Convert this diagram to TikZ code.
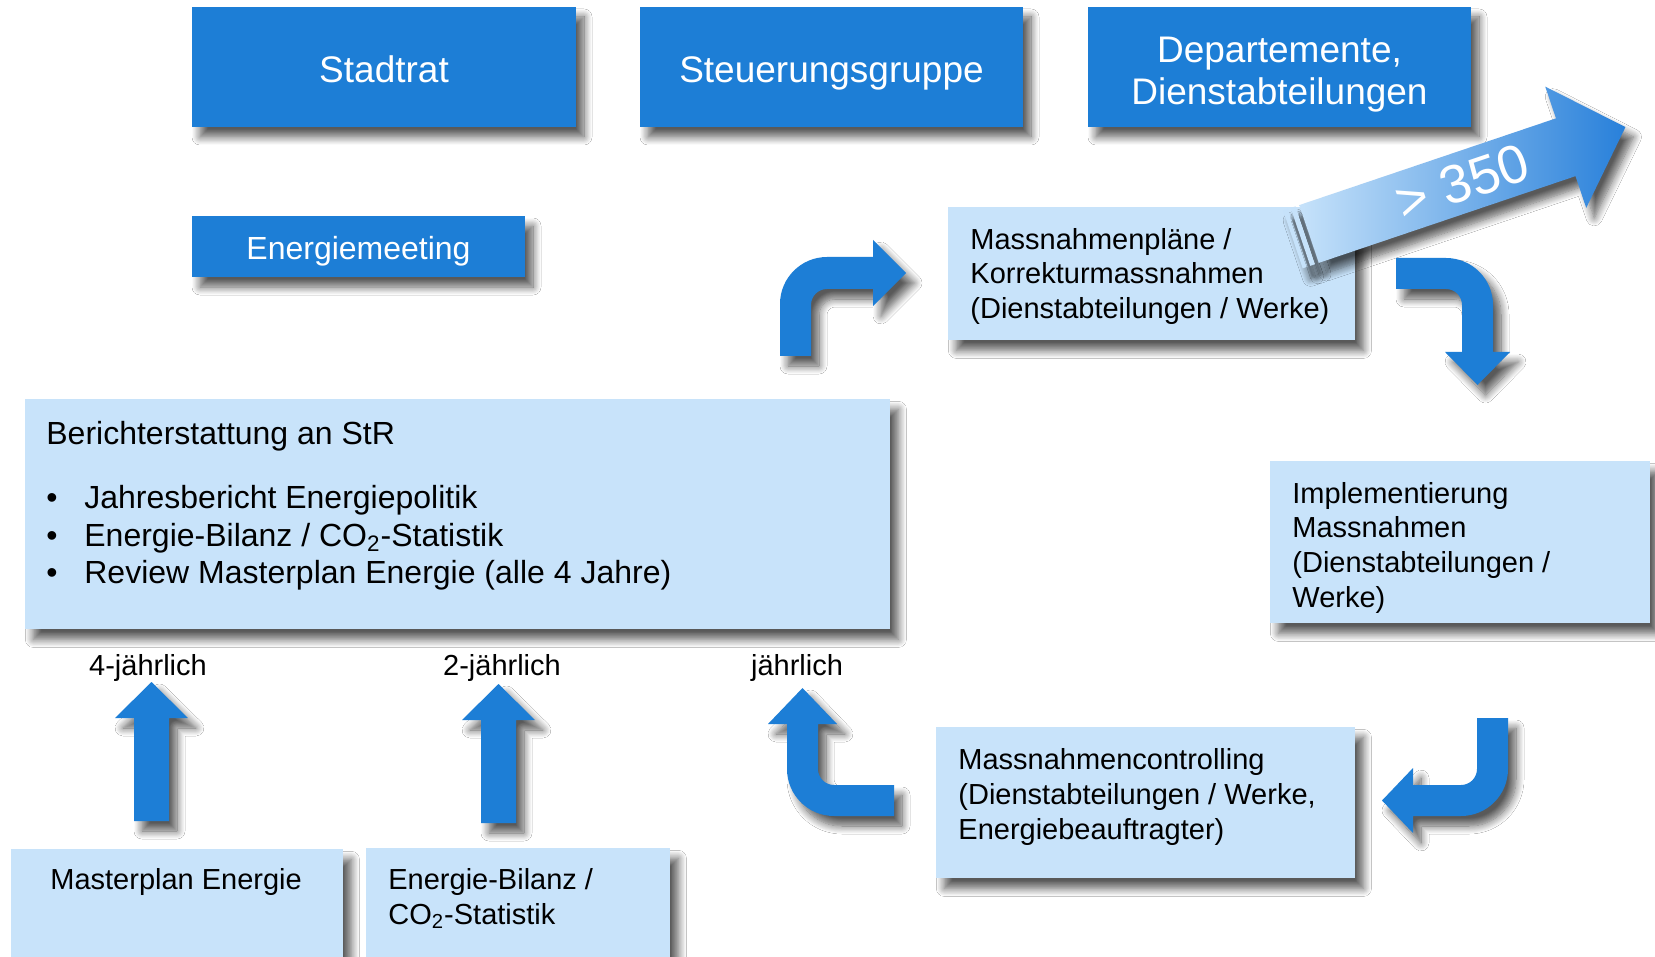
\documentclass[tikz,border=0pt]{standalone}
\usepackage{fontspec}
\setmainfont{Liberation Sans}
\usetikzlibrary{shadows.blur}
\definecolor{dunkelblau}{RGB}{29,126,214}
\definecolor{hellblau}{RGB}{200,227,250}
\definecolor{pfeilhell}{RGB}{198,226,250}
\definecolor{pfeildunkel}{RGB}{40,128,218}
\tikzset{
    schatten/.style={blur shadow={shadow xshift=4pt, shadow yshift=-5pt,
                     shadow blur radius=4pt, shadow blur steps=10,
                     shadow opacity=65}},
    orgbox/.style={fill=dunkelblau, text=white, schatten, inner sep=0pt,
                   align=center, font=\fontsize{18.5}{21}\selectfont},
    infobox/.style={fill=hellblau, schatten, inner sep=0pt, anchor=north west},
    infotext/.style={anchor=north west, inner sep=0pt, align=left,
                     font=\fontsize{14.5}{17.4}\selectfont},
    takt/.style={font=\fontsize{14.5}{18}\selectfont},
    blockpfeil/.style={fill=dunkelblau, schatten},
}

\begin{document}
\begin{tikzpicture}[x=0.5pt, y=-0.5pt]

    \useasboundingbox (0,0) rectangle (1655,957);
    \fill[white] (0,0) rectangle (1655,957);

    % Gremien
    \node[orgbox, minimum width=192pt, minimum height=60pt,
          text height=15.5pt, text depth=0pt] (stadtrat) at (384,67) {Stadtrat};
    \node[orgbox, minimum width=191.5pt, minimum height=60pt,
          text height=15.5pt, text depth=0pt] (steuerung) at (831.5,67) {Steuerungsgruppe};
    \node[orgbox, minimum width=191.5pt, minimum height=60pt] (departemente) at (1279.5,67)
        {\rule{0pt}{20pt}Departemente,\\Dienstabteilungen};
    \node[orgbox, minimum width=166.5pt, minimum height=30.5pt,
          text height=13.5pt, text depth=0pt,
          font=\fontsize{16}{19}\selectfont] (meeting) at (358.5,246.5) {Energiemeeting};

    % Kreislauf
    \node[infobox, minimum width=203.5pt, minimum height=66.5pt,
          label={[infotext, xshift=11pt, yshift=-10.3pt]north west:{Massnahmenpläne /\\Korrekturmassnahmen\\(Dienstabteilungen / Werke)}}]
          (plaene) at (948,207) {};
    \node[infobox, minimum width=190pt, minimum height=81pt,
          label={[infotext, xshift=11pt, yshift=-10.3pt]north west:{Implementierung\\Massnahmen\\(Dienstabteilungen /\\Werke)}}]
          (umsetzung) at (1270,461) {};
    \node[infobox, minimum width=209.5pt, minimum height=75.5pt,
          label={[infotext, xshift=11pt, yshift=-10.5pt]north west:{Massnahmencontrolling\\(Dienstabteilungen / Werke,\\Energiebeauftragter)}}]
          (controlling) at (936,727) {};
    \node[infobox, minimum width=432.5pt, minimum height=115pt,
          label={[infotext, font=\fontsize{16}{18.75}\selectfont, xshift=10.5pt, yshift=-11pt]north west:{Berichterstattung an StR\\[13.25pt]
          \makebox[19pt][l]{•}Jahresbericht Energiepolitik\\
          \makebox[19pt][l]{•}Energie-Bilanz / CO\textsubscript{2}-Statistik\\
          \makebox[19pt][l]{•}Review Masterplan Energie (alle 4 Jahre)}}]
          (bericht) at (25,399) {};

    % Grundlagen
    \node[infobox, minimum width=166pt, minimum height=60pt,
          label={[infotext, xshift=19.5pt, yshift=-9.5pt]north west:{Masterplan Energie}}]
          (masterplan) at (11,849) {};
    \node[infobox, minimum width=152pt, minimum height=60pt,
          label={[infotext, xshift=11pt, yshift=-10pt]north west:{Energie-Bilanz /\\CO\textsubscript{2}-Statistik}}]
          (bilanz) at (366,848) {};

    \node[takt] (vier) at (148,668) {4-jährlich};
    \node[takt] (zwei) at (502,668) {2-jährlich};
    \node[takt] (eins) at (797,668) {jährlich};

    % gerade Pfeile
    \fill[blockpfeil] (134,821) -- (134,718) -- (115,718) -- (151.5,682)
        -- (188,718) -- (169,718) -- (169,821) -- cycle;
    \fill[blockpfeil] (481,823) -- (481,720) -- (462,720) -- (498.5,684)
        -- (535,720) -- (516,720) -- (516,823) -- cycle;

    % gebogene Pfeile
    \fill[blockpfeil] (780,356) -- (780,304) arc[start angle=180, end angle=270, radius=47]
        -- (873,257) -- (873,240) -- (906,273) -- (873,306) -- (873,289) -- (827,289)
        arc[start angle=270, end angle=180, radius=16] -- (811,356) -- cycle;
    \fill[blockpfeil] (1396,258) -- (1446,258) arc[start angle=-90, end angle=0, radius=47]
        -- (1493,352) -- (1510,352) -- (1477.5,385) -- (1445,352) -- (1462,352) -- (1462,305)
        arc[start angle=0, end angle=-90, radius=16] -- (1396,289) -- cycle;
    \fill[blockpfeil] (1477,718) -- (1508,718) -- (1508,769) arc[start angle=0, end angle=90, radius=47]
        -- (1413,816) -- (1413,833) -- (1382,800.5) -- (1413,768) -- (1413,785) -- (1461,785)
        arc[start angle=90, end angle=0, radius=16] -- cycle;
    \fill[blockpfeil] (894,785) -- (834,785) arc[start angle=90, end angle=180, radius=16]
        -- (818,724) -- (837,724) -- (802.5,688) -- (768,724) -- (787,724) -- (787,769)
        arc[start angle=180, end angle=90, radius=47] -- (894,816) -- cycle;

    % Anzahl Massnahmen
    \begin{scope}[shift={(1309,234)}, rotate=18.67]
        \foreach \a in {-17,-9}
            \fill[pfeilhell, schatten] (\a,-30.5) rectangle ++(5,61);
        \shade[left color=pfeilhell, right color=pfeildunkel, schatten]
            (0,-30.5) -- (271,-30.5) -- (271,-64) -- (334,0) -- (271,64)
            -- (271,30.5) -- (0,30.5) -- cycle;
        \node[rotate=18.67, text=white, font=\fontsize{27}{30}\selectfont] (anzahl) at (162,0) {> 350};
    \end{scope}

\end{tikzpicture}
\end{document}
